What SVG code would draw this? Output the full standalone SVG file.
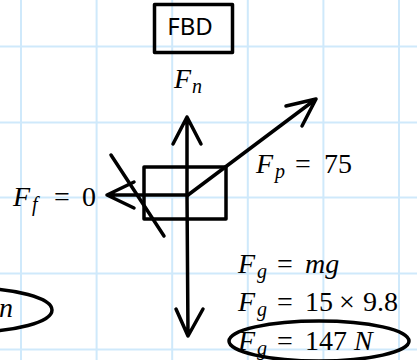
<svg xmlns="http://www.w3.org/2000/svg" width="417" height="360" viewBox="0 0 417 360">
<style>
.grid{stroke:#cfe9fb;stroke-width:2;fill:none}
.ink{stroke:#000;stroke-width:3.5;fill:none;stroke-linecap:round;stroke-linejoin:round}
.m{font-family:"Liberation Serif","Times New Roman",serif;font-size:28px;fill:#000}
.v{font-style:italic}
.s{font-size:20px;font-style:italic}
.lbl{font-family:"Noto Sans","Open Sans",sans-serif;font-size:24px;fill:#000}
</style>
<rect width="417" height="360" fill="#fff"/>
<g id="grid">
<path class="grid" d="M21 0V360M96.6 0V360M172.2 0V360M247.8 0V360M323.4 0V360M399 0V360M0 46.5H417M0 122.5H417M0 197.5H417M0 273.5H417M0 349.5H417"/>
</g>
<g id="fbd-title">
<rect class="ink" x="154.5" y="4.5" width="78" height="48"/>
<text class="lbl" x="190" y="35" text-anchor="middle">FBD</text>
</g>
<g id="block">
<rect class="ink" x="144" y="167" width="82" height="52"/>
</g>
<g id="connectors">
<path class="ink" d="M187 195V117M173 144L187 117L201 144"/>
<path class="ink" d="M187 195L188 336M176 309L188 336L203 309"/>
<path class="ink" d="M188 195H107M134 182L107 195L134 208"/>
<path class="ink" d="M188 195L316 99M286 106L316 99L302 126"/>
<path class="ink" d="M111 155L164 236"/>
</g>
<g id="label-fn">
<text class="m"><tspan class="v" x="174" y="88">F</tspan><tspan class="s" x="192" y="93">n</tspan></text>
</g>
<g id="label-fp">
<text class="m"><tspan class="v" x="256" y="173">F</tspan><tspan class="s" x="275" y="178">p</tspan><tspan x="295" y="173">=</tspan><tspan x="324" y="173">75</tspan></text>
</g>
<g id="label-ff">
<text class="m"><tspan class="v" x="13" y="206">F</tspan><tspan class="s" x="32" y="211">f</tspan><tspan x="54" y="206">=</tspan><tspan x="82" y="206">0</tspan></text>
</g>
<g id="label-fg">
<text class="m"><tspan class="v" x="238" y="273">F</tspan><tspan class="s" x="257" y="278">g</tspan><tspan x="277" y="273">=</tspan><tspan class="v" x="305" y="273">mg</tspan></text>
<text class="m"><tspan class="v" x="238" y="311">F</tspan><tspan class="s" x="257" y="316">g</tspan><tspan x="277" y="311">=</tspan><tspan x="305" y="311">15</tspan><tspan x="339" y="311">×</tspan><tspan x="363" y="311">9.8</tspan></text>
<text class="m"><tspan class="v" x="238" y="350">F</tspan><tspan class="s" x="257" y="355">g</tspan><tspan x="277" y="350">=</tspan><tspan x="305" y="350">147</tspan><tspan class="v" x="354" y="350">N</tspan></text>
<ellipse class="ink" cx="319" cy="341" rx="90" ry="20"/>
</g>
<g id="label-left">
<text class="m"><tspan class="v" x="-1" y="317">n</tspan></text>
<ellipse class="ink" cx="-30" cy="310" rx="82" ry="22"/>
</g>
</svg>
